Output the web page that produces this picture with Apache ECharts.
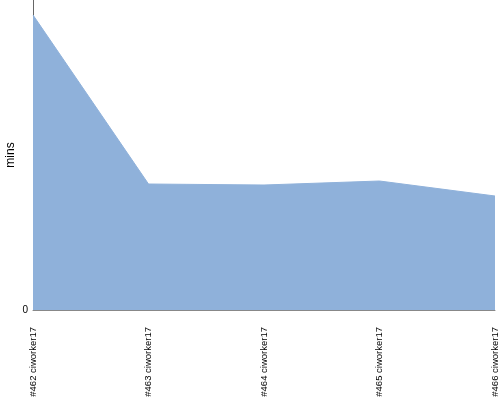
<!DOCTYPE html>
<html><head><meta charset="utf-8">
<script src="https://cdn.jsdelivr.net/npm/echarts@6/dist/echarts.min.js"></script>
<style>html,body{margin:0;padding:0;background:#fff}#c{width:500px;height:400px}</style>
</head><body><div id="c"></div>
<script>
var categories = ['#462 ciworker17', '#463 ciworker17', '#464 ciworker17', '#465 ciworker17', '#466 ciworker17'];
var values = [29.5, 12.6, 12.5, 12.9, 11.4];
var yMax = 31;
var chart = echarts.init(document.getElementById('c'));
chart.setOption({
  animation: false,
  grid: {left: 33, right: 5, top: 0, bottom: 90, containLabel: false, outerBoundsMode: 'none'},
  xAxis: {
    type: 'category', data: categories, boundaryGap: false,
    axisLine: {lineStyle: {color: '#888'}},
    axisTick: {show: false},
    axisLabel: {rotate: 90, fontFamily: 'Liberation Sans', fontSize: 9.5, color: '#000', margin: 17}
  },
  yAxis: {
    type: 'value', min: 0, max: yMax, interval: yMax,
    name: 'mins', nameLocation: 'middle', nameGap: 16, nameRotate: 90, nameMoveOverlap: false,
    nameTextStyle: {fontFamily: 'Liberation Sans', fontSize: 12, color: '#000'},
    axisLine: {show: true, lineStyle: {color: '#666'}},
    axisTick: {show: false},
    splitLine: {show: false},
    axisLabel: {showMaxLabel: false, fontFamily: 'Liberation Sans', fontSize: 10, color: '#000', margin: 5,
      formatter: function (v) { return v === 0 ? '0' : ''; }}
  },
  series: [{
    type: 'line', data: values, symbol: 'none',
    lineStyle: {width: 1, color: '#8fb1da'},
    areaStyle: {color: '#8fb1da', opacity: 1}
  }]
});
</script></body></html>
